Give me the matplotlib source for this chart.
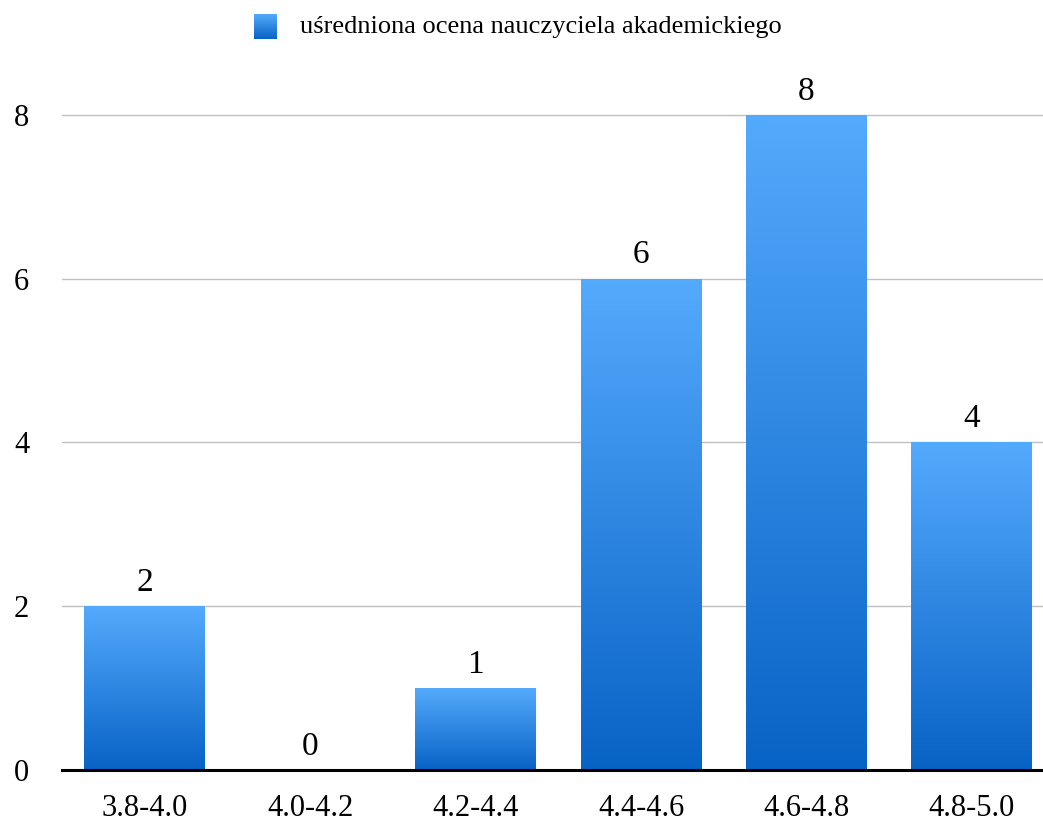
import numpy as np
import matplotlib
matplotlib.use("Agg")
import matplotlib.pyplot as plt
from matplotlib.colors import LinearSegmentedColormap

categories = ["3.8-4.0", "4.0-4.2", "4.2-4.4", "4.4-4.6", "4.6-4.8", "4.8-5.0"]
counts = [2, 0, 1, 6, 8, 4]
yticks = [0, 2, 4, 6, 8]
series_name = "uśredniona ocena nauczyciela akademickiego"

plt.rcParams["font.family"] = ["Liberation Serif", "DejaVu Serif"]

top_col = "#54aafc"
bot_col = "#0863c6"
cmap = LinearSegmentedColormap.from_list("bar", [bot_col, top_col])
grad = np.linspace(0, 1, 256).reshape(-1, 1)

fig = plt.figure(figsize=(10.43, 8.22), dpi=100)
ax = fig.add_axes([62 / 1043, 52 / 822, (1043 - 62) / 1043, 690 / 822])

x = np.arange(len(categories))
width = 0.73
bars = ax.bar(x, counts, width=width, color="none", edgecolor="none", zorder=3)
for b, v in zip(bars, counts):
    if v <= 0:
        continue
    x0, y0 = b.get_x(), b.get_y()
    im = ax.imshow(grad, cmap=cmap, origin="lower", aspect="auto",
                   extent=(x0, x0 + b.get_width(), y0, y0 + b.get_height()),
                   zorder=3)
    im.set_clip_path(b)

for xi, v in zip(x, counts):
    ax.text(xi, v + 0.1, str(v), ha="center", va="bottom", fontsize=24, zorder=4)

ax.set_xlim(-0.5, 5.43)
ax.set_ylim(0, 8.425)
ax.set_yticks(yticks)
ax.set_xticks(x)
ax.set_xticklabels(categories)
ax.tick_params(axis="both", length=0, labelsize=22)
ax.tick_params(axis="y", pad=34.5)
ax.tick_params(axis="x", pad=17)
for lab in ax.get_yticklabels():
    lab.set_horizontalalignment("left")
ax.grid(axis="y", color="#c0c0c0", linewidth=1, zorder=0)
for s in ["top", "right", "left"]:
    ax.spines[s].set_visible(False)
ax.spines["bottom"].set_linewidth(2.2)
ax.spines["bottom"].set_color("black")
ax.spines["bottom"].set_zorder(5)

# legend swatch with gradient
lax = fig.add_axes([254 / 1043, 1 - 39 / 822, 23 / 1043, 25 / 822])
lax.imshow(grad, cmap=cmap, origin="lower", aspect="auto")
lax.axis("off")
fig.text(300 / 1043, 1 - 27 / 822, series_name, ha="left", va="center", fontsize=19)

fig.savefig("out.png", dpi=100)
